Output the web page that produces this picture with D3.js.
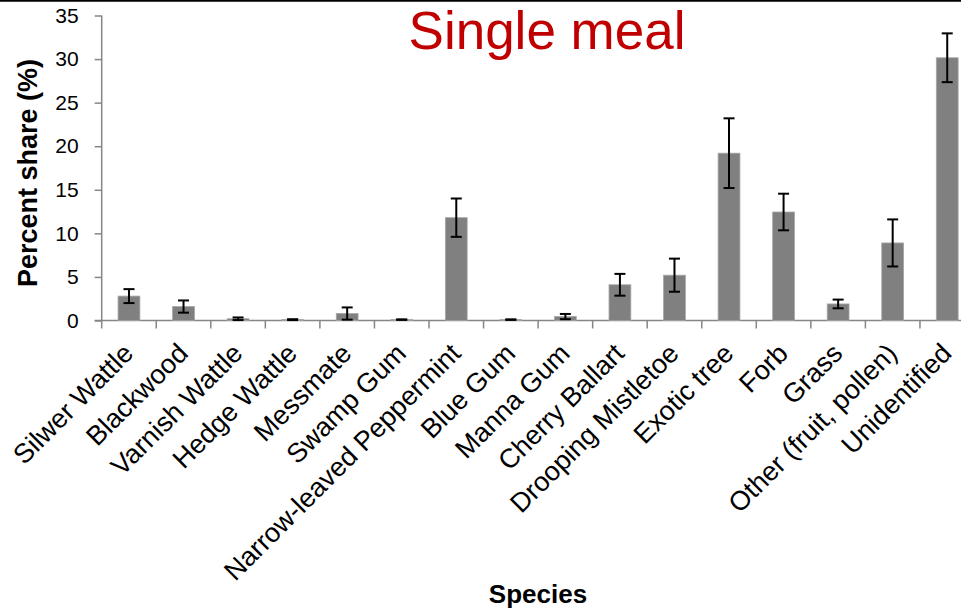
<!DOCTYPE html>
<html>
<head>
<meta charset="utf-8">
<script src="https://cdn.jsdelivr.net/npm/d3@7"></script>
<style>
  html, body { margin: 0; padding: 0; background: #fff; }
  svg { display: block; font-family: Arial, "Liberation Sans", sans-serif; }
</style>
</head>
<body>
<svg id="chart" width="961" height="608"></svg>
<script>
// Diet composition per species, single meal
const species = [
  "Silwer Wattle", "Blackwood", "Varnish Wattle", "Hedge Wattle", "Messmate",
  "Swamp Gum", "Narrow-leaved Peppermint", "Blue Gum", "Manna Gum", "Cherry Ballart",
  "Drooping Mistletoe", "Exotic tree", "Forb", "Grass", "Other (fruit, pollen)", "Unidentified"
];
const share = [2.8, 1.6, 0.2, 0.1, 0.8, 0.1, 11.8, 0.1, 0.45, 4.1, 5.2, 19.2, 12.45, 1.9, 8.9, 30.15];
const errors = [0.8, 0.7, 0.15, 0.05, 0.7, 0.03, 2.2, 0.03, 0.3, 1.25, 1.9, 4.0, 2.1, 0.5, 2.7, 2.8];
const yTicks = [0, 5, 10, 15, 20, 25, 30, 35];

const svg = d3.select("#chart");
const W = 961;

const x = d3.scaleBand()
  .domain(species)
  .range([101.7, 974.5])
  .paddingInner(0.6)
  .paddingOuter(0.3);

const y = d3.scaleLinear().domain([0, 35]).range([320.5, 15.5]);

const axisColor = "#868686";

// top frame line
svg.append("line")
  .attr("x1", 0).attr("x2", W).attr("y1", 0.8).attr("y2", 0.8)
  .attr("stroke", "#000").attr("stroke-width", 1.8);

// y axis
const yAxis = svg.append("g").attr("transform", "translate(101.7,0)")
  .call(d3.axisLeft(y).tickValues(yTicks).tickSize(7).tickPadding(16).tickFormat(d3.format("d")));
yAxis.select(".domain").attr("stroke", axisColor).attr("stroke-width", 1.5)
  .attr("d", `M0,${y(35)}V${y(0)}`);
yAxis.selectAll(".tick line").attr("stroke", axisColor).attr("stroke-width", 1.5);
yAxis.selectAll(".tick text")
  .attr("fill", "#000").style("font-size", "21px").style("font-family", "Arial, 'Liberation Sans', sans-serif");

// x axis line and tick marks at band boundaries
const step = x.step();
const x0 = x.range()[0];
svg.append("line")
  .attr("x1", x0 - 7).attr("x2", W).attr("y1", y(0)).attr("y2", y(0))
  .attr("stroke", axisColor).attr("stroke-width", 1.5);
svg.append("g").selectAll("line")
  .data(d3.range(species.length + 1))
  .join("line")
  .attr("x1", i => x0 + i * step).attr("x2", i => x0 + i * step)
  .attr("y1", y(0)).attr("y2", y(0) + 8)
  .attr("stroke", axisColor).attr("stroke-width", 1.5);

// bars
svg.append("g").selectAll("rect")
  .data(species)
  .join("rect")
  .attr("x", d => x(d))
  .attr("width", x.bandwidth())
  .attr("y", (d, i) => y(share[i]))
  .attr("height", (d, i) => y(0) - y(share[i]))
  .attr("fill", "#808080")
  .attr("stroke", "#a6a6a6")
  .attr("stroke-width", 0.8);

// error bars
const capW = 11;
const eb = svg.append("g").attr("stroke", "#000").attr("stroke-width", 2);
species.forEach((d, i) => {
  if (errors[i] <= 0) return;
  const cx = x(d) + x.bandwidth() / 2;
  const lo = y(Math.max(0, share[i] - errors[i]));
  const hi = y(share[i] + errors[i]);
  eb.append("line").attr("x1", cx).attr("x2", cx).attr("y1", lo).attr("y2", hi);
  eb.append("line").attr("x1", cx - capW / 2).attr("x2", cx + capW / 2).attr("y1", lo).attr("y2", lo);
  eb.append("line").attr("x1", cx - capW / 2).attr("x2", cx + capW / 2).attr("y1", hi).attr("y2", hi);
});

// category labels, rotated
svg.append("g").selectAll("text")
  .data(species)
  .join("text")
  .attr("transform", d => `translate(${x(d) + x.bandwidth() / 2 + 6},355) rotate(-45)`)
  .attr("text-anchor", "end")
  .style("font-size", "27px")
  .attr("fill", "#000")
  .text(d => d);

// axis titles
svg.append("text")
  .attr("transform", "translate(37,173) rotate(-90)")
  .attr("text-anchor", "middle")
  .style("font-size", "27px").style("font-weight", "bold")
  .text("Percent share (%)");

svg.append("text")
  .attr("x", 538).attr("y", 603)
  .attr("text-anchor", "middle")
  .style("font-size", "26px").style("font-weight", "bold")
  .text("Species");

// chart title
svg.append("text")
  .attr("x", 547).attr("y", 48.5)
  .attr("text-anchor", "middle")
  .style("font-size", "53px")
  .attr("fill", "#c00000")
  .text("Single meal");
</script>
</body>
</html>
